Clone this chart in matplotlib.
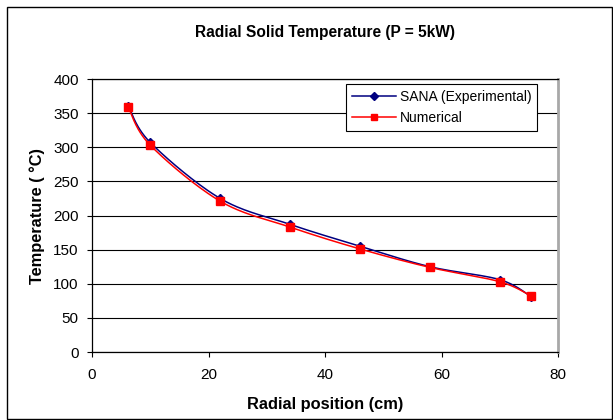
import numpy as np
import matplotlib.pyplot as plt
from matplotlib.patches import Rectangle
from matplotlib.lines import Line2D

plt.rcParams['font.family'] = ['Liberation Sans', 'DejaVu Sans']

# radial position (cm) and solid temperature (deg C)
radius = [6.2, 10, 22, 34, 46, 58, 70, 75.4]
temp_exp = [361, 307, 225, 187, 155, 125, 106, 81]
temp_num = [359, 303, 221, 183, 151, 124, 103, 82]

x_ticks = [0, 20, 40, 60, 80]
y_ticks = [0, 50, 100, 150, 200, 250, 300, 350, 400]


def smooth(x, y, sx=5.83, sy=0.683, n=30):
    # Catmull-Rom curve through the points (computed in screen-like units)
    p = np.column_stack([np.asarray(x) * sx, np.asarray(y) * sy])
    p = np.vstack([p[0], p, p[-1]])
    out = []
    for i in range(1, len(p) - 2):
        p0, p1, p2, p3 = p[i - 1], p[i], p[i + 1], p[i + 2]
        c1 = p1 + (p2 - p0) / 6
        c2 = p2 - (p3 - p1) / 6
        t = np.linspace(0, 1, n)[:, None]
        seg = ((1 - t) ** 3 * p1 + 3 * (1 - t) ** 2 * t * c1
               + 3 * (1 - t) * t ** 2 * c2 + t ** 3 * p2)
        out.append(seg if i == 1 else seg[1:])
    out = np.vstack(out)
    return out[:, 0] / sx, out[:, 1] / sy


fig = plt.figure(figsize=(6.13, 4.2), dpi=100)
ax = fig.add_axes([0.1501, 0.1619, 0.7602, 0.65])

# outer chart border
fig.patches.append(Rectangle((7 / 613, 1 / 420), 605 / 613, 412 / 420,
                             transform=fig.transFigure, fill=False,
                             edgecolor='black', linewidth=1.0))

navy = '#000080'
red = '#ff0000'

xs, ys = smooth(radius, temp_exp)
ax.plot(xs, ys, color=navy, lw=1.1, zorder=3)
ax.plot(radius, temp_exp, ls='none', marker='D', color=navy, ms=4, zorder=3)

xs, ys = smooth(radius, temp_num)
ax.plot(xs, ys, color=red, lw=1.1, zorder=4)
ax.plot(radius, temp_num, ls='none', marker='s', color=red, ms=5.5, zorder=4)

ax.set_xlim(0, 80)
ax.set_ylim(0, 400)
ax.set_xticks(x_ticks)
ax.set_yticks(y_ticks)
ax.grid(axis='y', color='black', lw=0.8)
ax.set_axisbelow(True)
ax.tick_params(direction='out', length=3.5, width=0.8, labelsize=11,
               colors='black')
ax.tick_params(axis='x', pad=8)
ax.tick_params(axis='y', pad=6)

for side in ['left', 'bottom', 'top']:
    ax.spines[side].set_color('black')
    ax.spines[side].set_linewidth(0.9)
ax.spines['right'].set_color('#a8a8a8')
ax.spines['right'].set_linewidth(2)

ax.set_title('Radial Solid Temperature (P = 5kW)', fontsize=11.2,
             fontweight='bold', pad=30)
ax.set_xlabel('Radial position (cm)', fontsize=11.8, fontweight='bold',
              labelpad=11)
ax.set_ylabel('Temperature ( °C)', fontsize=11.8, fontweight='bold',
              labelpad=6)

handles = [
    Line2D([], [], color=navy, lw=1.1, marker='D', ms=4),
    Line2D([], [], color=red, lw=1.1, marker='s', ms=5),
]
leg = ax.legend(handles, ['SANA (Experimental)', 'Numerical'],
                loc='upper left', bbox_to_anchor=(0.545, 0.98),
                fontsize=10, frameon=True, fancybox=False,
                edgecolor='black', framealpha=1, handlelength=3.2,
                handletextpad=0.3, borderpad=0.4, labelspacing=0.5,
                borderaxespad=0)
leg.get_frame().set_linewidth(0.8)

fig.savefig('out.png', dpi=100)
